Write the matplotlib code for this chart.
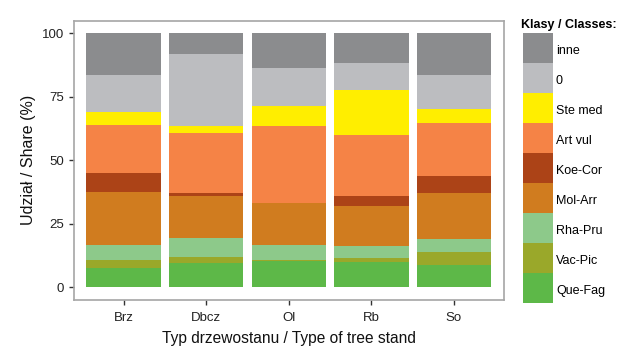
import matplotlib
matplotlib.use("Agg")
import matplotlib.pyplot as plt
from matplotlib.patches import Rectangle
import numpy as np

plt.rcParams['font.family'] = ['Liberation Sans', 'DejaVu Sans']

stands = ["Brz", "Dbcz", "Ol", "Rb", "So"]
# bottom to top order
classes = ["Que-Fag", "Vac-Pic", "Rha-Pru", "Mol-Arr", "Koe-Cor", "Art vul", "Ste med", "0", "inne"]
colors = ["#5db848", "#9aa82a", "#8dc98a", "#d07c1f", "#ac4317", "#f58346", "#ffee00", "#bcbdc0", "#8b8c8e"]

que_fag = [7.5, 9.5, 10.5, 9.9, 8.9]
vac_pic = [3.4, 2.6, 0.3, 1.5, 4.9]
rha_pru = [5.9, 7.2, 5.9, 4.7, 5.3]
mol_arr = [20.7, 16.6, 16.5, 15.9, 18.0]
koe_cor = [7.6, 1.3, 0.0, 3.9, 6.6]
art_vul = [19.0, 23.7, 30.2, 24.2, 21.0]
ste_med = [5.0, 2.8, 7.9, 17.5, 5.4]
zero = [14.5, 28.0, 14.9, 10.6, 13.5]
inne = [16.4, 8.3, 13.8, 11.8, 16.4]

series = [que_fag, vac_pic, rha_pru, mol_arr, koe_cor, art_vul, ste_med, zero, inne]

W, H = 642, 351
fig = plt.figure(figsize=(W / 100, H / 100), dpi=100)
ax = fig.add_axes([74 / W, 1 - 300 / H, (503.5 - 74) / W, (300 - 20.7) / H])

x = np.arange(len(stands))
bottom = np.zeros(len(stands))
for vals, col in zip(series, colors):
    v = np.array(vals, dtype=float)
    ax.bar(x, v, bottom=bottom, width=0.9, color=col, linewidth=0)
    bottom += v

ax.set_xlim(-0.6, 4.6)
ax.set_ylim(-5, 105)
ax.set_xticks(x)
ax.set_xticklabels(stands)
ax.set_yticks([0, 25, 50, 75, 100])
for s in ax.spines.values():
    s.set_color("#a6a6a6")
    s.set_linewidth(1.2)
ax.tick_params(axis='both', length=3.5, width=1, color="#333333", labelsize=9.5, labelcolor="#222222")
ax.tick_params(axis='x', pad=5)
ax.set_xlabel("Typ drzewostanu / Type of tree stand", fontsize=11.2, labelpad=5, color="#111111")
ax.set_ylabel("Udział / Share (%)", fontsize=11.5, labelpad=4, color="#111111")

# legend
fig.text(521 / W, 1 - 25 / H, "Klasy / Classes:", fontsize=9, fontweight='bold', va='center', ha='left')
key_top = 33.3
key_h = 30
for i, (name, col) in enumerate(zip(classes[::-1], colors[::-1])):
    y0 = key_top + i * key_h
    fig.patches.append(Rectangle((522.5 / W, 1 - (y0 + key_h) / H), 30 / W, key_h / H,
                                 transform=fig.transFigure, facecolor=col, edgecolor='none'))
    fig.text(556 / W, 1 - (y0 + key_h / 2 + 2.5) / H, name, fontsize=9, va='center', ha='left')

fig.savefig("out.png", dpi=100)
